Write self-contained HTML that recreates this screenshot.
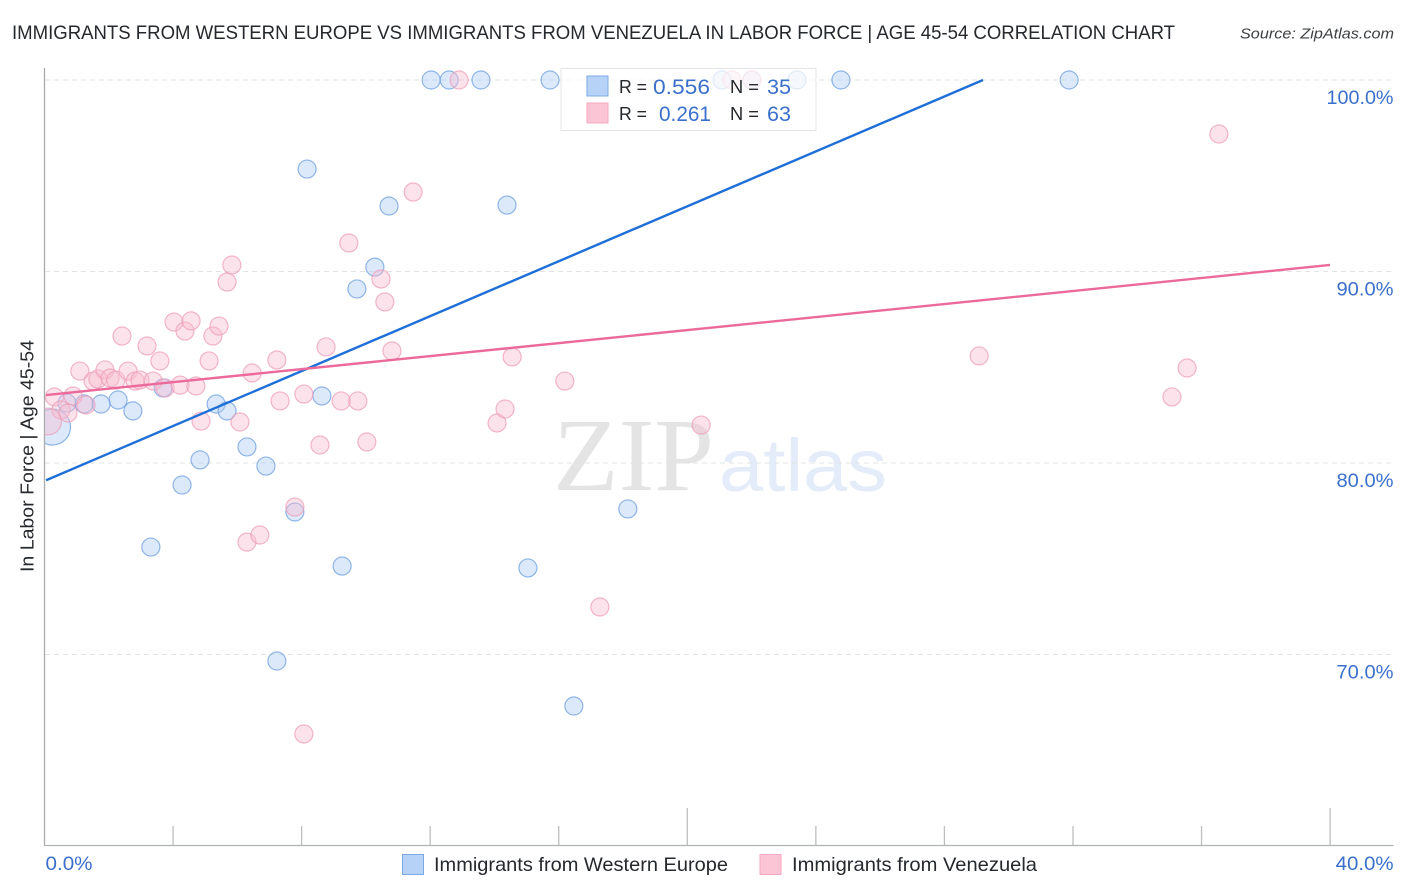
<!DOCTYPE html>
<html lang="en">
<head>
<meta charset="utf-8">
<title>Immigrants from Western Europe vs Immigrants from Venezuela Correlation Chart</title>
<style>
html,body{margin:0;padding:0;background:#fff;width:1406px;height:892px;overflow:hidden}
svg{display:block}
text{font-family:"Liberation Sans",sans-serif}
</style>
</head>
<body>
<svg id="chart" xmlns="http://www.w3.org/2000/svg" width="1406" height="892" viewBox="0 0 1406 892">
  <defs>
    <clipPath id="plot-clip"><rect x="45" y="60" width="1349" height="785"/></clipPath>
  </defs>
  <rect x="0" y="0" width="1406" height="892" fill="#fff"/>
  <text x="12" y="39" font-size="19.5" fill="#25282c" textLength="1163" lengthAdjust="spacingAndGlyphs">IMMIGRANTS FROM WESTERN EUROPE VS IMMIGRANTS FROM VENEZUELA IN LABOR FORCE | AGE 45-54 CORRELATION CHART</text>
  <text x="1394" y="38.5" font-size="15" font-style="italic" fill="#3c4043" text-anchor="end" textLength="154" lengthAdjust="spacingAndGlyphs">Source: ZipAtlas.com</text>

  <g>
    <text x="553" y="490" font-size="104" fill="#e4e4e4" textLength="161" lengthAdjust="spacingAndGlyphs" style="font-family:'Liberation Serif',serif">ZIP</text>
    <text x="719" y="491" font-size="74" fill="#e3ecf8" textLength="168" lengthAdjust="spacingAndGlyphs">atlas</text>
  </g>

  <g id="grid"></g>
  <g id="axes"></g>
  <g id="points-blue" clip-path="url(#plot-clip)"></g>
  <g id="points-pink" clip-path="url(#plot-clip)"></g>
  <g id="trends"></g>
  <g id="y-labels"></g>
  <g id="x-labels"></g>

  <text transform="translate(33.5,572) rotate(-90)" font-size="18.5" fill="#25282c" textLength="232" lengthAdjust="spacingAndGlyphs">In Labor Force | Age 45-54</text>

  <g>
    <rect x="561" y="68.5" width="255" height="62" fill="#fff" fill-opacity="0.72" stroke="#e2e4e8" stroke-width="1"/>
    <rect x="587" y="76" width="21" height="20" fill="#b6d3f7" stroke="#7da9e3" stroke-width="1"/>
    <rect x="587" y="103" width="21" height="20" fill="#fcc5d6" stroke="#f3a9c0" stroke-width="1"/>
    <text x="619" y="93" font-size="18.5" fill="#25282c" textLength="28" lengthAdjust="spacingAndGlyphs">R =</text>
    <text x="653" y="94" font-size="21" fill="#3a70cc" textLength="57" lengthAdjust="spacingAndGlyphs">0.556</text>
    <text x="730" y="93" font-size="18.5" fill="#25282c" textLength="29" lengthAdjust="spacingAndGlyphs">N =</text>
    <text x="767" y="94" font-size="21" fill="#3a70cc" textLength="24" lengthAdjust="spacingAndGlyphs">35</text>
    <text x="619" y="120" font-size="18.5" fill="#25282c" textLength="28" lengthAdjust="spacingAndGlyphs">R =</text>
    <text x="659" y="121" font-size="21" fill="#3a70cc" textLength="52" lengthAdjust="spacingAndGlyphs">0.261</text>
    <text x="730" y="120" font-size="18.5" fill="#25282c" textLength="29" lengthAdjust="spacingAndGlyphs">N =</text>
    <text x="767" y="121" font-size="21" fill="#3a70cc" textLength="24" lengthAdjust="spacingAndGlyphs">63</text>
  </g>

  <g>
    <g>
      <rect x="402.5" y="854.5" width="21" height="20" fill="#b6d3f7" stroke="#7da9e3" stroke-width="1"/>
      <text x="434" y="871" font-size="19.5" fill="#25282c" textLength="294" lengthAdjust="spacingAndGlyphs">Immigrants from Western Europe</text>
    </g>
    <g>
      <rect x="760" y="854.5" width="21" height="20" fill="#fcc5d6" stroke="#f3a9c0" stroke-width="1"/>
      <text x="792" y="871" font-size="19.5" fill="#25282c" textLength="245" lengthAdjust="spacingAndGlyphs">Immigrants from Venezuela</text>
    </g>
  </g>
</svg>
<script>
const blueX = [12.03,12.59,13.58,15.73,21.08,22.01,23.41,24.78,31.88,8.17,10.72,14.39,10.28,9.72,8.63,5.34,5.68,6.30,4.84,6.89,4.28,7.79,3.31,9.26,15.04,18.15,7.23,16.47,3.69,2.29,2.75,1.76,1.23,0.70,0.25];
const blueY = [100,100,100,100,100,100,100,100,100,95.35,93.42,93.47,90.23,89.09,83.5,83.08,82.72,80.84,80.16,79.84,78.85,77.44,75.61,74.62,74.52,77.6,69.66,67.31,83.92,83.29,82.72,83.08,83.08,83.13,81.88];
const blueWeight = [1,1,1,1,1,1,1,1,1,1,1,1,1,1,1,1,1,1,1,1,1,1,1,1,1,1,1,1,1,1,1,1,1,1,4];

const pinkX = [0.31,0.51,0.73,0.11,0.89,1.29,1.10,1.51,1.66,1.88,2.04,2.22,2.41,2.60,2.82,2.97,3.19,3.38,3.59,3.75,4.03,4.22,4.37,4.56,4.71,4.87,5.12,5.24,5.43,5.68,5.83,6.08,6.30,6.70,6.46,7.23,7.33,7.79,8.07,8.07,8.57,8.76,9.23,9.75,10.03,9.47,10.47,10.59,10.81,11.47,12.90,14.08,14.33,14.55,16.19,17.28,20.43,21.39,22.01,29.08,35.08,35.55,36.54];
const pinkY = [83.45,82.77,82.61,82.17,83.5,83.03,84.8,84.28,84.39,84.86,84.44,84.33,86.63,84.8,84.28,84.33,86.11,84.28,85.33,83.92,87.36,84.07,86.89,87.42,84.02,82.19,85.33,86.63,87.15,89.45,90.34,82.14,75.87,76.24,84.7,85.38,83.24,77.7,83.6,65.85,80.94,86.06,83.24,83.24,81.1,91.49,89.61,88.41,85.85,94.15,100,82.09,82.82,85.54,84.28,72.48,81.98,100,100,85.59,83.45,84.96,97.18];
const pinkWeight = [1,1,1,2.2,1,1,1,1,1,1,1,1,1,1,1,1,1,1,1,1,1,1,1,1,1,1,1,1,1,1,1,1,1,1,1,1,1,1,1,1,1,1,1,1,1,1,1,1,1,1,1,1,1,1,1,1,1,1,1,1,1,1,1];

const blueTrendX = [0.05, 29.2];
const blueTrendY = [79.1, 100];
const pinkTrendX = [0.05, 40];
const pinkTrendY = [83.55, 90.34];

const yTicks = [100, 90, 80, 70];
const yTickLabels = ['100.0%', '90.0%', '80.0%', '70.0%'];
const xTicks = [4, 8, 12, 16, 20, 24, 28, 32, 36, 40];
const xMajorTicks = [20, 40];
const xEdgeValues = [0, 40];
const xEdgeLabels = ['0.0%', '40.0%'];

const NS = 'http://www.w3.org/2000/svg';
const xScale = v => 44.5 + v * 32.14;
const yScale = v => 80 + (100 - v) * 19.15;
const radius = w => 9 * Math.sqrt(w);

function svgEl(tag, parent) {
  const el = document.createElementNS(NS, tag);
  parent.appendChild(el);
  return el;
}
function setAll(el, attrs) {
  for (const k in attrs) el.setAttribute(k, attrs[k]);
}

const grid = document.getElementById('grid');
yTicks.forEach(t => {
  const line = svgEl('line', grid);
  
  
  setAll(line, {x1: 45, x2: 1393, y1: yScale(t), y2: yScale(t), stroke: '#e1e3e5', 'stroke-width': 1, 'stroke-dasharray': '5 4'});
});

const axes = document.getElementById('axes');
const yAxisLine = svgEl('line', axes);


setAll(yAxisLine, {x1: 44.5, x2: 44.5, y1: 68, y2: 845.5, stroke: '#a9abad', 'stroke-width': 1.3});
const xAxisLine = svgEl('line', axes);


setAll(xAxisLine, {x1: 44, x2: 1393.5, y1: 845.5, y2: 845.5, stroke: '#b0b2b4', 'stroke-width': 1.3});
xTicks.forEach(t => {
  const tick = svgEl('line', axes);
  
  
  const top = xMajorTicks.includes(t) ? 808 : 826;
  setAll(tick, {x1: xScale(t), x2: xScale(t), y1: top, y2: 845, stroke: '#bcbec0', 'stroke-width': 1.3});
});

function drawPoints(groupId, xs, ys, weights, fill, stroke, name) {
  const g = document.getElementById(groupId);
  xs.forEach((x, i) => {
    const c = svgEl('circle', g);
    
    
    setAll(c, {cx: xScale(x), cy: yScale(ys[i]), r: radius(weights[i]), fill: fill, 'fill-opacity': 0.42, stroke: stroke, 'stroke-opacity': 0.75, 'stroke-width': 1.2});
  });
}
drawPoints('points-blue', blueX, blueY, blueWeight, '#a9cbf5', '#6f9fde', 'western-europe-point');
drawPoints('points-pink', pinkX, pinkY, pinkWeight, '#f9bccf', '#ee9db8', 'venezuela-point');

const trends = document.getElementById('trends');
const blueLine = svgEl('line', trends);


setAll(blueLine, {x1: xScale(blueTrendX[0]), y1: yScale(blueTrendY[0]), x2: xScale(blueTrendX[1]), y2: yScale(blueTrendY[1]), stroke: '#1f6fd8', 'stroke-width': 2.4});
const pinkLine = svgEl('line', trends);


setAll(pinkLine, {x1: xScale(pinkTrendX[0]), y1: yScale(pinkTrendY[0]), x2: xScale(pinkTrendX[1]), y2: yScale(pinkTrendY[1]), stroke: '#ec6a9b', 'stroke-width': 2.4});

const yLabels = document.getElementById('y-labels');
yTicks.forEach((t, i) => {
  const label = svgEl('text', yLabels);
  
  
  setAll(label, {x: 1393.5, y: yScale(t) + 24, 'font-size': 19.5, fill: '#3a70cc', 'text-anchor': 'end', textLength: i === 0 ? 67 : 57, lengthAdjust: 'spacingAndGlyphs'});
  label.textContent = yTickLabels[i];
});

const xLabels = document.getElementById('x-labels');
xEdgeValues.forEach((v, i) => {
  const label = svgEl('text', xLabels);
  
  
  setAll(label, {x: i === 0 ? xScale(v) + 1 : xScale(v) + 63.5, y: 870, 'font-size': 19.5, fill: '#3a70cc', 'text-anchor': i === 0 ? 'start' : 'end', textLength: i === 0 ? 47 : 58, lengthAdjust: 'spacingAndGlyphs'});
  label.textContent = xEdgeLabels[i];
});
</script>
</body>
</html>
